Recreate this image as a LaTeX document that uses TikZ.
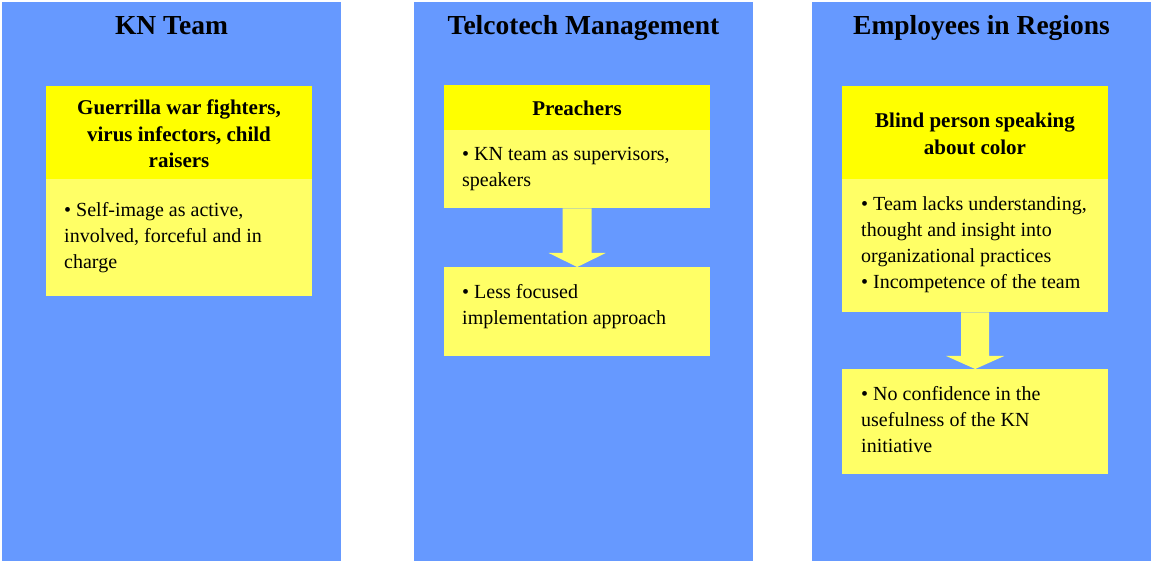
\documentclass[tikz,border=0pt]{standalone}
\usepackage{fontspec}
\setmainfont{Liberation Serif}
\usetikzlibrary{calc}
\definecolor{colblue}{HTML}{6699FF}
\definecolor{hdryellow}{HTML}{FFFF00}
\definecolor{bodyyellow}{HTML}{FFFF66}
\begin{document}
\begin{tikzpicture}[x=1pt,y=-1pt,
  panel/.style={rectangle, fill=colblue, draw=none, inner sep=0pt, anchor=north west, minimum width=339pt, minimum height=559pt},
  hdrbox/.style={rectangle, fill=hdryellow, draw=none, inner sep=0pt, anchor=north west, minimum width=266pt},
  bodybox/.style={rectangle, fill=bodyyellow, draw=none, inner sep=0pt, anchor=north west, minimum width=266pt},
  title/.style={font=\fontsize{27.5}{32}\selectfont\bfseries, anchor=base, inner sep=0pt},
  hdrtext/.style={font=\fontsize{21}{26.5}\selectfont\bfseries, align=center, anchor=base, inner sep=0pt},
  bodytext/.style={font=\fontsize{20}{26}\selectfont, align=left, anchor=base west, inner sep=0pt},
  flow/.style={fill=bodyyellow, draw=none}
]
\useasboundingbox (0,0) rectangle (1152,561);
\fill[white] (0,0) rectangle (1152,561);

% three columns
\node[panel] (p1) at (2,2) {};
\node[panel] (p2) at (414,2) {};
\node[panel] (p3) at (812,2) {};

% KN team column
\node[hdrbox, minimum height=93pt] (h1) at (46,86) {};
\node[bodybox, minimum height=117pt] (b1) at (46,179) {};

% Telcotech management column
\node[hdrbox, minimum height=45pt] (h2) at (444,85) {};
\node[bodybox, minimum height=78pt] (b2) at (444,130) {};
\node[bodybox, minimum height=89pt] (c2) at (444,267) {};

% Employees column
\node[hdrbox, minimum height=93pt] (h3) at (842,86) {};
\node[bodybox, minimum height=133pt] (b3) at (842,179) {};
\node[bodybox, minimum height=105pt] (c3) at (842,369) {};

% block arrows between boxes
\fill[flow] ($(b2.south)+(-14.5,0)$) -- ($(b2.south)+(14.5,0)$)
  -- ($(c2.north)+(14.5,-14)$) -- ($(c2.north)+(28.5,-14)$) -- (c2.north)
  -- ($(c2.north)+(-28.5,-14)$) -- ($(c2.north)+(-14.5,-14)$) -- cycle;
\fill[flow] ($(b3.south)+(-14,0)$) -- ($(b3.south)+(14,0)$)
  -- ($(c3.north)+(14,-13)$) -- ($(c3.north)+(29,-13)$) -- (c3.north)
  -- ($(c3.north)+(-29,-13)$) -- ($(c3.north)+(-14,-13)$) -- cycle;

% titles
\node[title] (t1) at (171.5,35) {KN Team};
\node[title] (t2) at (583.5,35) {Telcotech Management};
\node[title] (t3) at (981.5,35) {Employees in Regions};

% texts (multi-line nodes are anchored on the baseline of their last line)
\node[hdrtext] (ht1) at (179,168) {Guerrilla war fighters,\\virus infectors, child\\raisers};
\node[bodytext] (bt1) at (64,269) {• Self-image as active,\\involved, forceful and in\\charge};

\node[hdrtext] (ht2) at (577,116) {Preachers};
\node[bodytext] (bt2) at (462,187) {• KN team as supervisors,\\speakers};
\node[bodytext] (ct2) at (462,325) {• Less focused\\implementation approach};

\node[hdrtext] (ht3) at (975,154.5) {Blind person speaking\\about color};
\node[bodytext] (bt3) at (861,288.5) {• Team lacks understanding,\\thought and insight into\\organizational practices\\• Incompetence of the team};
\node[bodytext] (ct3) at (861,452.5) {• No confidence in the\\usefulness of the KN\\initiative};
\end{tikzpicture}
\end{document}
